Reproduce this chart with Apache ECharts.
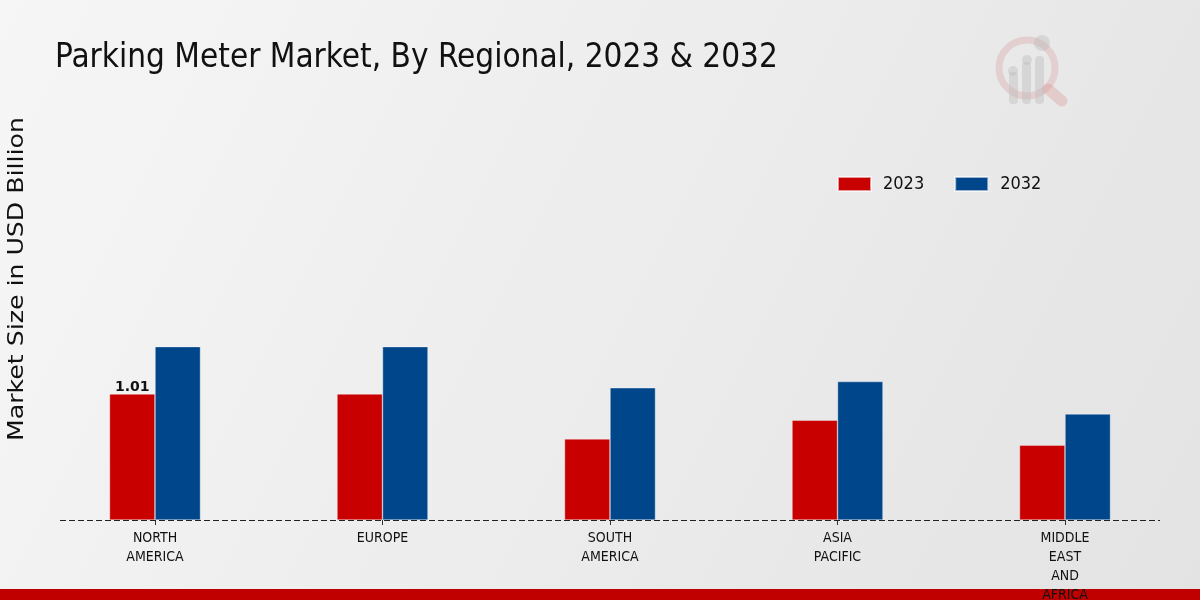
<!DOCTYPE html>
<html>
<head>
<meta charset="utf-8">
<script src="https://cdn.jsdelivr.net/npm/echarts@6/dist/echarts.min.js"></script>
<style>html,body{margin:0;padding:0;overflow:hidden;}#c{width:1200px;height:600px;}</style>
</head>
<body>
<div id="c"></div>
<script>
const categories = ['NORTH\nAMERICA', 'EUROPE', 'SOUTH\nAMERICA', 'ASIA\nPACIFIC', 'MIDDLE\nEAST\nAND\nAFRICA'];
const values2023 = [1.01, 1.01, 0.65, 0.80, 0.60];
const values2032 = [1.39, 1.39, 1.06, 1.11, 0.85];
const seriesNames = ['2023', '2032'];

const COND = '"DejaVu Sans Condensed", "DejaVu Sans", sans-serif';
const chart = echarts.init(document.getElementById('c'), null, {renderer: 'canvas', width: 1200, height: 600});

const option = {
  backgroundColor: {
    type: 'linear', x: 0, y: 0, x2: 1, y2: 1,
    colorStops: [{offset: 0, color: '#f6f6f6'}, {offset: 1, color: '#e3e3e3'}]
  },
  animation: false,
  title: {
    text: 'Parking Meter Market, By Regional, 2023 & 2032',
    left: 50, top: 37,
    textStyle: {fontFamily: COND, fontSize: 33, fontWeight: 'normal', color: '#111'}
  },
  legend: {
    data: seriesNames,
    left: 832, top: 170,
    itemWidth: 33, itemHeight: 14, itemGap: 30,
    textStyle: {fontFamily: COND, fontSize: 18, color: '#111', padding: [0, 0, 0, 7]},
    icon: 'rect'
  },
  grid: {left: 41.25, width: 1137.5, top: 145.75, height: 374.25, containLabel: false, outerBoundsMode: 'none'},
  xAxis: {
    type: 'category',
    data: categories,
    boundaryGap: true,
    axisLine: {show: false},
    axisTick: {show: true, alignWithLabel: true, length: 5, lineStyle: {color: '#333'}},
    axisLabel: {fontFamily: COND, fontSize: 14, color: '#111', lineHeight: 19, margin: 9, interval: 0}
  },
  yAxis: {
    type: 'value', min: 0, max: 3,
    show: false,
    splitLine: {show: false}
  },
  series: [
    {
      name: seriesNames[0], type: 'bar', data: values2023,
      barWidth: '20%', barGap: '0%',
      itemStyle: {color: '#c80000', borderColor: 'rgba(255,255,255,0.6)', borderWidth: 0.6},
      label: {
        show: true, position: 'top', distance: 0,
        fontFamily: '"DejaVu Sans", sans-serif', fontWeight: 'bold', fontSize: 14, color: '#111',
        formatter: p => p.dataIndex === 0 ? p.value.toFixed(2) : ''
      }
    },
    {
      name: seriesNames[1], type: 'bar', data: values2032,
      barWidth: '20%', barGap: '0%',
      itemStyle: {color: '#00468b', borderColor: 'rgba(255,255,255,0.6)', borderWidth: 0.6}
    }
  ]
};
chart.setOption(option);

const y0 = Math.round(chart.convertToPixel({yAxisIndex: 0}, 0)) + 0.5;
chart.setOption({
  graphic: [
    {
      type: 'line', z: 10,
      shape: {x1: 60, y1: y0, x2: 1160, y2: y0},
      style: {stroke: '#222', lineWidth: 1, lineDash: [6, 3]}
    },
    {
      type: 'text', x: 18, y: 279, rotation: Math.PI / 2, scaleX: 1.2,
      style: {text: 'Market Size in USD Billion', fontFamily: '"DejaVu Sans", sans-serif', fontSize: 21,
              fill: '#111', align: 'center', verticalAlign: 'middle'}
    },
    {
      type: 'rect', left: 0, bottom: 0,
      shape: {width: 1200, height: 11},
      style: {fill: '#c00000'}
    },
    {
      type: 'group', silent: true,
      children: [
        {type: 'circle', shape: {cx: 1027, cy: 68, r: 28}, style: {fill: 'none', stroke: 'rgba(210,130,130,0.25)', lineWidth: 7}},
        {type: 'line', shape: {x1: 1048, y1: 89, x2: 1062, y2: 101}, style: {stroke: 'rgba(220,130,130,0.28)', lineWidth: 11, lineCap: 'round'}},
        {type: 'rect', shape: {x: 1009, y: 72, width: 9, height: 32, r: 4}, style: {fill: 'rgba(185,185,185,0.4)'}},
        {type: 'rect', shape: {x: 1022, y: 62, width: 9, height: 42, r: 4}, style: {fill: 'rgba(185,185,185,0.4)'}},
        {type: 'rect', shape: {x: 1035, y: 56, width: 9, height: 48, r: 4}, style: {fill: 'rgba(185,185,185,0.4)'}},
        {type: 'circle', shape: {cx: 1013, cy: 71, r: 5}, style: {fill: 'rgba(185,185,185,0.4)'}},
        {type: 'circle', shape: {cx: 1027, cy: 60, r: 5}, style: {fill: 'rgba(185,185,185,0.4)'}},
        {type: 'circle', shape: {cx: 1042, cy: 43, r: 8}, style: {fill: 'rgba(185,185,185,0.4)'}}
      ]
    }
  ]
});
</script>
</body>
</html>
